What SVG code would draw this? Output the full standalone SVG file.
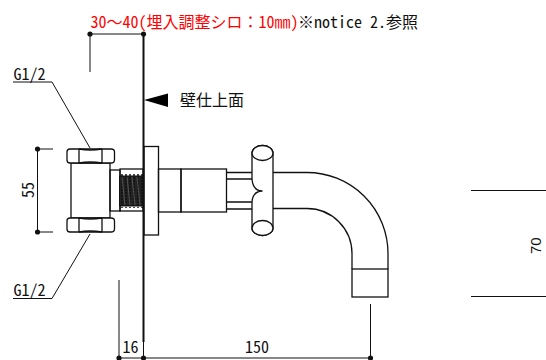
<svg xmlns="http://www.w3.org/2000/svg" width="546" height="360" viewBox="0 0 546 360">
<defs>
<style>
.s{fill:none;stroke:#111;stroke-width:1}
.m{fill:none;stroke:#111;stroke-width:1.3}
.f{fill:#fff;stroke:#111;stroke-width:1.3}
.t{font-family:"Noto Sans CJK JP",sans-serif;font-size:16px;font-weight:400;fill:#111;font-feature-settings:"hwid" 1}
.z{font-feature-settings:normal}
.a{font-family:"Liberation Sans",sans-serif;font-size:15px;fill:#111}
.r{fill:#f00}
</style>
<marker id="dot" markerWidth="6" markerHeight="6" refX="3" refY="3" markerUnits="userSpaceOnUse"><circle cx="3" cy="3" r="2.6" fill="#111"/></marker>
</defs>
<rect width="546" height="360" fill="#fff"/>

<g id="wall"><line x1="143.500" y1="34" x2="143.500" y2="342" stroke="#111" stroke-width="2"/></g>

<g id="connectors">
<path class="s" d="M90 72V34H143.500" marker-mid="url(#dot)" marker-end="url(#dot)"/>
<path class="s" d="M13 82H52L90 148"/>
<path class="s" d="M13 298.500H52L90 234"/>
<path class="s" d="M53 149H37.500V232H53" marker-mid="url(#dot)"/>
<path class="s" d="M119 280V358H370.500V304" marker-mid="url(#dot)"/>
<path class="s" d="M143.500 342V358" marker-end="url(#dot)"/>
<path class="s" d="M471 190.500H546M471 296.500H546"/>
</g>

<g id="wall-arrow"><polygon points="144,100 168,93.500 168,107" fill="#000"/></g>

<g id="fitting">
<rect class="m" x="71" y="163" width="39" height="55"/>
<rect class="m" x="110" y="170" width="10" height="41"/>
<rect class="m" x="120" y="169" width="23" height="42"/>
<path d="M119.500 176H143V206H119.500Z" fill="#222" stroke="#111"/>
<path d="M122 174v34M126 174v34M130 174v34M134 174v34M138 174v34M142 174v34" stroke="#111" stroke-width="1.500" stroke-dasharray="2 1" fill="none"/>
<path d="M122 177l3 28M127 177l3 28M132 177l3 28M137 177l3 28" stroke="#777" stroke-width=".6" fill="none"/>
<g id="nut-top">
<path class="f" d="M70 149H111Q114.500 149 114.500 152V160Q114.500 163 111 163H70Q67 163 67 160V152Q67 149 70 149Z"/>
<path class="m" d="M79 149V163M102 149V163M79 149Q90 151 102 149M79 163Q90 161 102 163"/>
</g>
<g id="nut-bottom">
<path class="f" d="M70 218H111Q114.500 218 114.500 221V229Q114.500 232 111 232H70Q67 232 67 229V221Q67 218 70 218Z"/>
<path class="m" d="M79 218V232M102 218V232M79 218Q90 220 102 218M79 232Q90 230 102 232"/>
</g>
</g>

<g id="flange"><rect class="m" x="144" y="146.500" width="14.500" height="88.500"/></g>

<g id="body">
<rect class="m" x="158.500" y="169" width="22.500" height="43"/>
<rect class="m" x="181" y="169" width="45.500" height="43"/>
<path class="m" d="M226.500 172.500H252M226.500 179H252M226.500 202H252M226.500 209H252"/>
</g>

<g id="spout">
<path class="m" d="M273 172.500H307A81 81 0 0 1 388 253.500V269"/>
<path class="m" d="M273 208.500H307A45 45 0 0 1 352 253.500V269"/>
<rect class="m" x="352" y="269" width="36" height="28"/>
</g>

<g id="handle">
<path class="f" d="M252 153V179Q253 191 262.500 191Q253 191 252 202V228A10.500 7.500 0 0 0 273 228V153A10.500 7.500 0 0 0 252 153Z"/>
<ellipse class="f" cx="262.500" cy="153" rx="10.500" ry="7.500"/>
<ellipse class="f" cx="262.500" cy="228" rx="10.500" ry="7.500"/>
</g>

<g id="labels">
<text x="90.500" y="28" class="t r">30<tspan class="z">～</tspan>40(埋入調整シロ<tspan class="z">：</tspan>10㎜)</text>
<text x="298" y="28" class="t">※notice 2.参照</text>
<text x="180" y="106" class="t">壁仕上面</text>
<text x="13.500" y="80" class="t">G1/2</text>
<text x="13.500" y="296" class="t">G1/2</text>
<text transform="translate(34 198) rotate(-90)" class="t">55</text>
<text x="122.500" y="353" class="t">16</text>
<text x="245" y="353" class="t">150</text>
<text transform="translate(541 254) rotate(-90)" class="a">70</text>
</g>
</svg>
